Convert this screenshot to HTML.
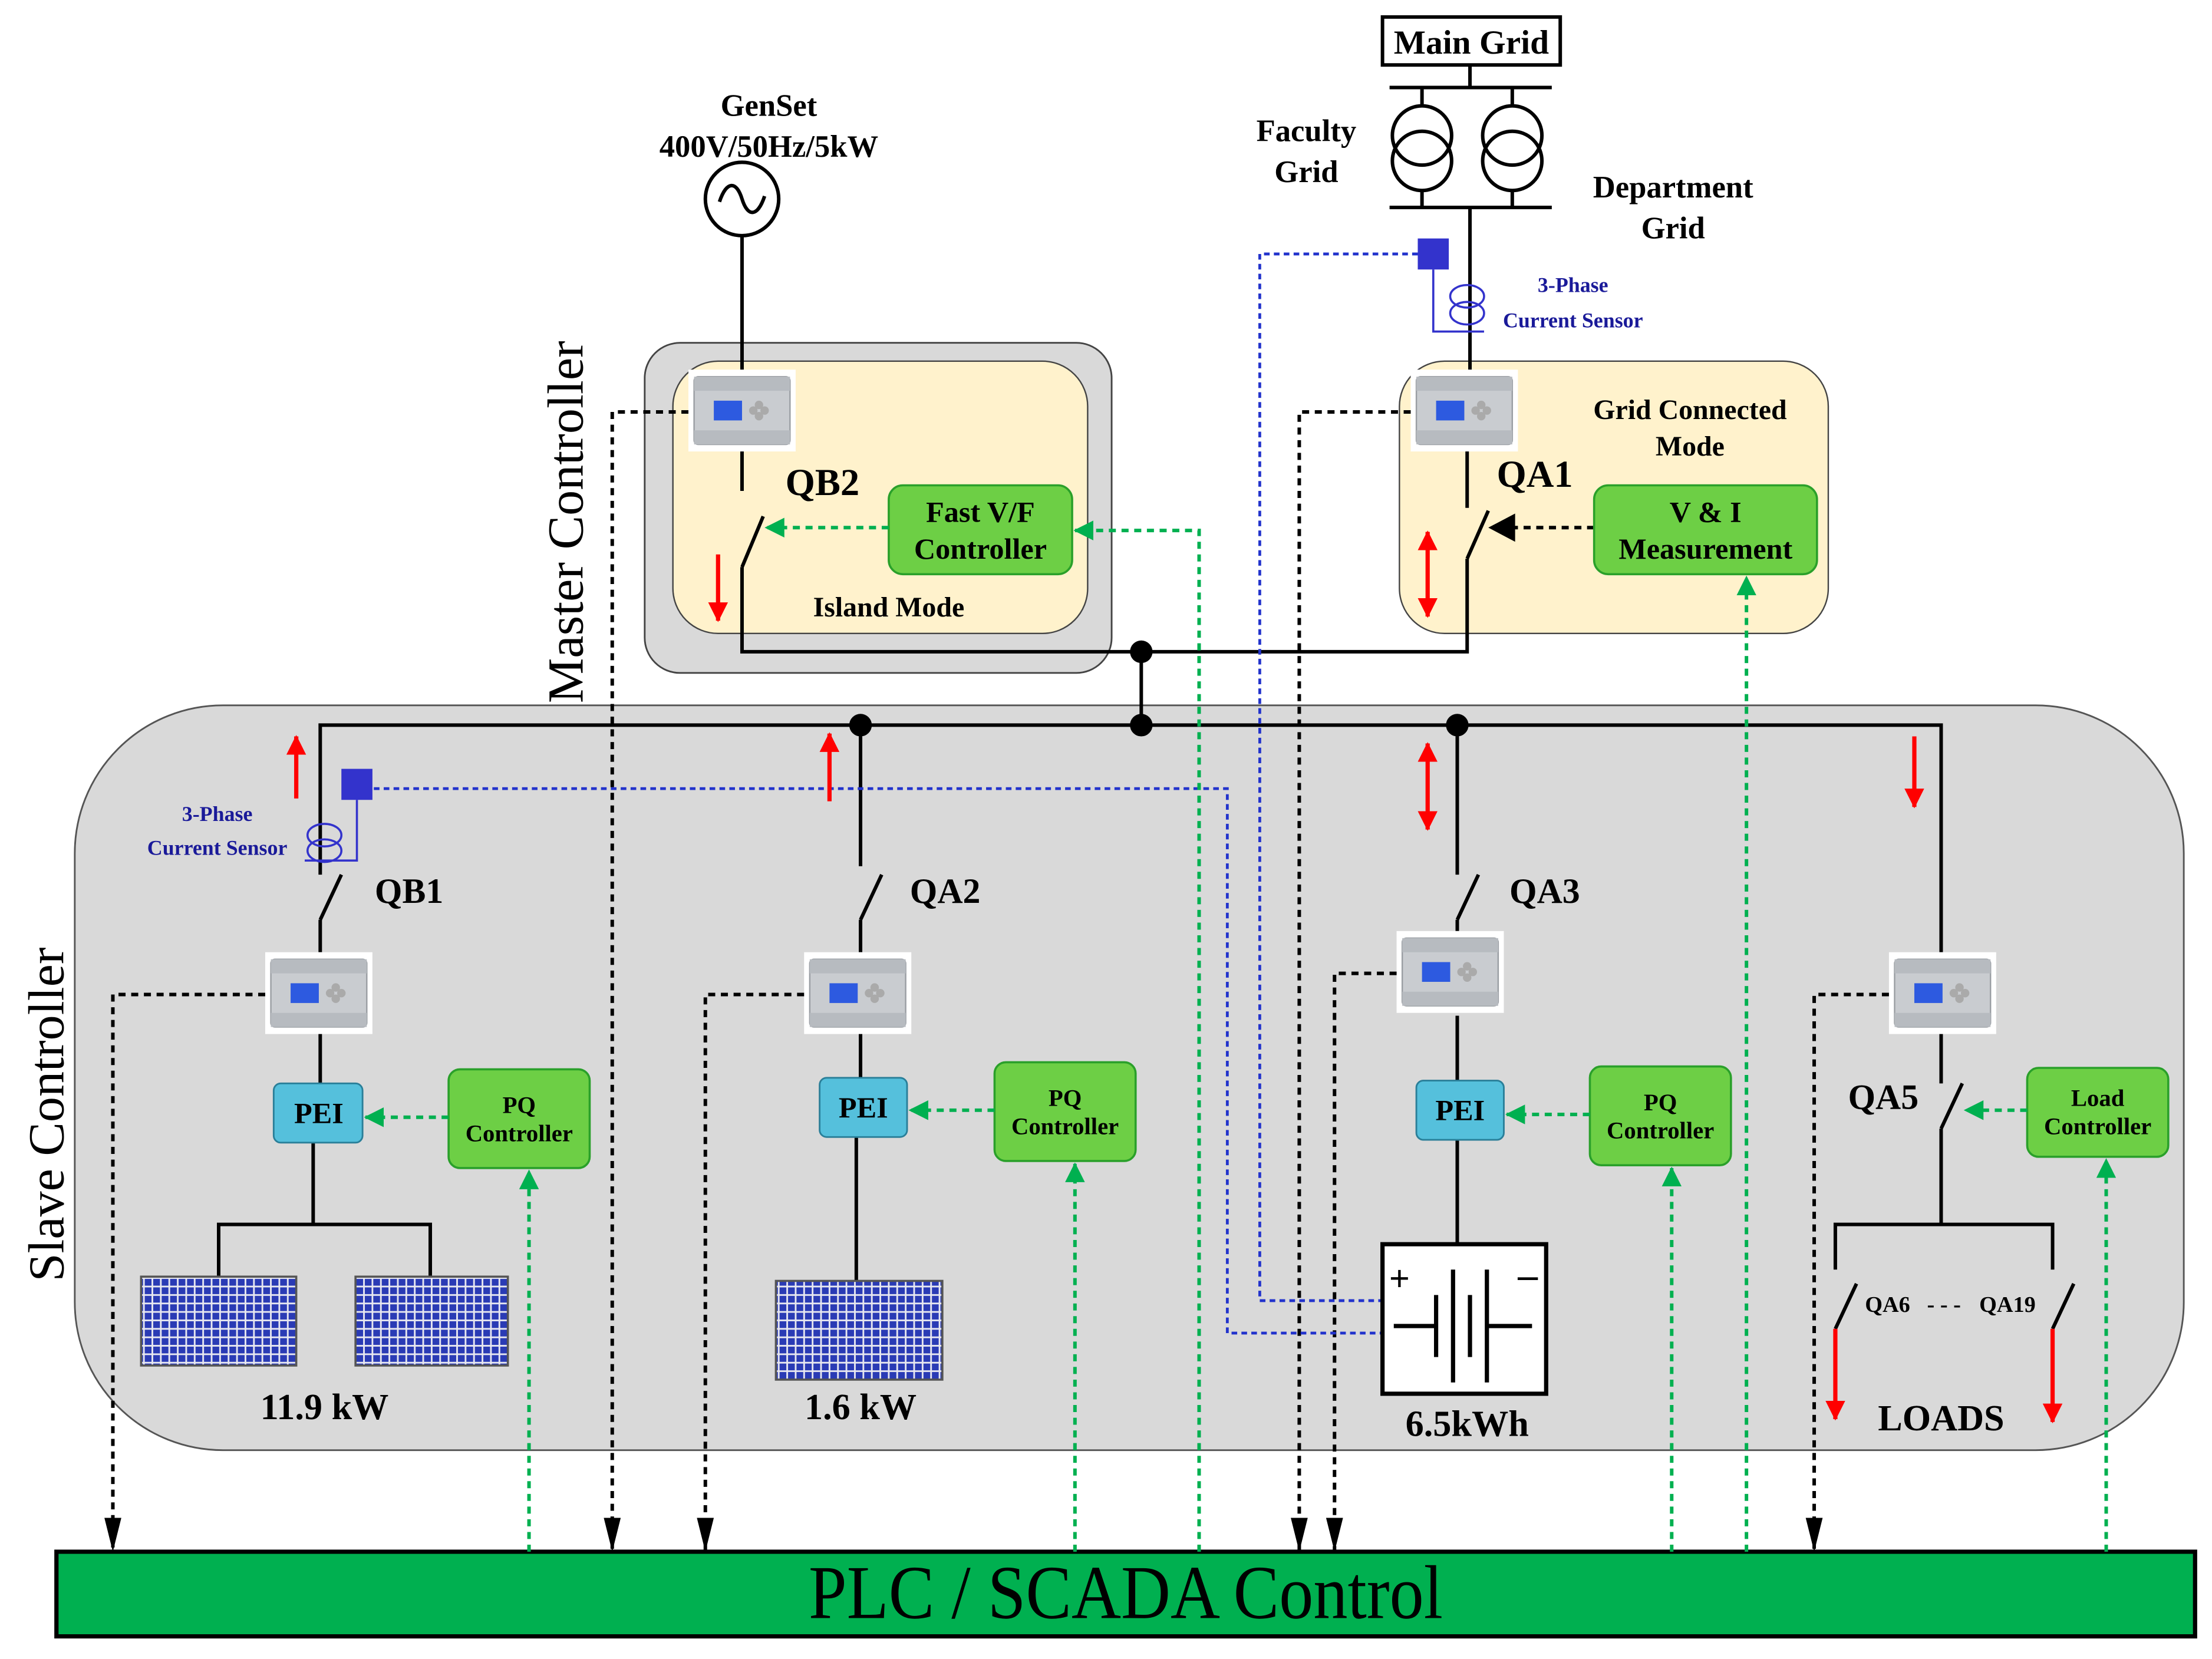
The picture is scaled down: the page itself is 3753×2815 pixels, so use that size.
<!DOCTYPE html>
<html><head><meta charset="utf-8"><style>html,body{margin:0;padding:0;background:#fff}svg{display:block}</style></head>
<body>
<svg xmlns="http://www.w3.org/2000/svg" width="3753" height="2815" viewBox="0 0 1568 1176" font-family="Liberation Serif, serif">
<defs>
<marker id="ak" markerWidth="8" markerHeight="10" refX="7" refY="5" orient="auto" markerUnits="userSpaceOnUse"><path d="M0,1 L8,5 L0,9 z" fill="#000"/></marker>
<marker id="akd" markerWidth="24" markerHeight="12" refX="23" refY="6" orient="auto" markerUnits="userSpaceOnUse"><path d="M0,0 L24,6 L0,12 z" fill="#000"/></marker>
<marker id="ag" markerWidth="14" markerHeight="14" refX="13" refY="7" orient="auto" markerUnits="userSpaceOnUse"><path d="M0,0 L14,7 L0,14 z" fill="#00b050"/></marker>
<marker id="ar" markerWidth="14" markerHeight="14" refX="13" refY="7" orient="auto" markerUnits="userSpaceOnUse"><path d="M0,0 L14,7 L0,14 z" fill="#f00"/></marker>
<marker id="arb" markerWidth="14" markerHeight="14" refX="1" refY="7" orient="auto" markerUnits="userSpaceOnUse"><path d="M14,0 L0,7 L14,14 z" fill="#f00"/></marker>
<pattern id="pv" width="6" height="6" patternUnits="userSpaceOnUse"><rect width="6" height="6" fill="#e8e8f0"/><rect x="0.6" y="0.6" width="4.8" height="4.8" fill="#2a3bb5"/></pattern>
<g id="meter">
<rect x="0" y="0" width="76" height="58" fill="#fff"/>
<rect x="4" y="5" width="68" height="48" rx="3" fill="#c9ccd0" stroke="#9a9ea3"/>
<rect x="4" y="5" width="68" height="10" fill="#b7bbc0"/>
<rect x="4" y="43" width="68" height="10" fill="#b7bbc0"/>
<rect x="18" y="22" width="20" height="14" fill="#2d5ae0"/>
<circle cx="50" cy="25" r="3" fill="#aaa"/><circle cx="50" cy="33" r="3" fill="#aaa"/><circle cx="46" cy="29" r="3" fill="#aaa"/><circle cx="54" cy="29" r="3" fill="#aaa"/>
</g>
</defs>

<rect x="53" y="500" width="1495" height="528" rx="105" fill="#d9d9d9" stroke="#555" stroke-width="1.2"/>
<rect x="457" y="243" width="331" height="234" rx="25" fill="#d9d9d9" stroke="#444" stroke-width="1.2"/>
<rect x="477" y="256" width="294" height="193" rx="32" fill="#fff2cc" stroke="#444" stroke-width="1"/>
<rect x="992" y="256" width="304" height="193" rx="32" fill="#fff2cc" stroke="#444" stroke-width="1"/>

<rect x="40" y="1100" width="1516" height="60" fill="#00b050" stroke="#000" stroke-width="3"/>
<text x="798" y="1147" text-anchor="middle" font-size="54" transform="translate(798 0) scale(0.9 1) translate(-798 0)">PLC / SCADA Control</text>

<rect x="980" y="12" width="126" height="34" fill="#fff" stroke="#000" stroke-width="2.5"/>
<text x="1043" y="38" text-anchor="middle" font-size="24" font-weight="bold">Main Grid</text>
<g stroke="#000" stroke-width="2.5" fill="none">
<line x1="1042" y1="46" x2="1042" y2="62"/>
<line x1="985" y1="62" x2="1100" y2="62"/>
<line x1="985" y1="147" x2="1100" y2="147"/>
<line x1="1008" y1="62" x2="1008" y2="75"/><line x1="1072" y1="62" x2="1072" y2="75"/>
<line x1="1008" y1="134" x2="1008" y2="147"/><line x1="1072" y1="134" x2="1072" y2="147"/>
<circle cx="1008" cy="96" r="21"/><circle cx="1008" cy="114" r="21"/>
<circle cx="1072" cy="96" r="21"/><circle cx="1072" cy="114" r="21"/>
</g>
<text x="926" y="100" text-anchor="middle" font-size="22" font-weight="bold">Faculty</text>
<text x="926" y="129" text-anchor="middle" font-size="22" font-weight="bold">Grid</text>
<text x="1186" y="140" text-anchor="middle" font-size="22" font-weight="bold">Department</text>
<text x="1186" y="169" text-anchor="middle" font-size="22" font-weight="bold">Grid</text>
<text x="545" y="82" text-anchor="middle" font-size="22" font-weight="bold">GenSet</text>
<text x="545" y="111" text-anchor="middle" font-size="22" font-weight="bold">400V/50Hz/5kW</text>
<circle cx="526" cy="141" r="26" fill="#fff" stroke="#000" stroke-width="2.5"/>
<path d="M510,143 C515,128 522,128 526,141 C530,154 537,154 542,139" fill="none" stroke="#000" stroke-width="2.5"/>

<g stroke="#000" stroke-width="2.5" fill="none">
<line x1="526" y1="167" x2="526" y2="262"/>
<line x1="526" y1="320" x2="526" y2="348"/>
<line x1="541" y1="366" x2="526" y2="402"/>
<polyline points="526,402 526,462 1040,462 1040,396"/>
<line x1="1055" y1="362" x2="1040" y2="396"/>
<line x1="1040" y1="320" x2="1040" y2="360"/>
<line x1="1042" y1="147" x2="1042" y2="262"/>
<line x1="809" y1="462" x2="809" y2="514"/>
<polyline points="227,620 227,514 1376,514 1376,675"/>
<line x1="242" y1="620" x2="227" y2="652"/><line x1="227" y1="652" x2="227" y2="675"/>
<line x1="227" y1="733" x2="227" y2="768"/>
<line x1="222" y1="810" x2="222" y2="868"/>
<polyline points="155,905 155,868 305,868 305,905"/>
<line x1="610" y1="514" x2="610" y2="614"/>
<line x1="625" y1="620" x2="610" y2="652"/><line x1="610" y1="652" x2="610" y2="675"/>
<line x1="610" y1="733" x2="610" y2="764"/>
<line x1="607" y1="806" x2="607" y2="908"/>
<line x1="1033" y1="514" x2="1033" y2="620"/>
<line x1="1048" y1="620" x2="1033" y2="652"/><line x1="1033" y1="652" x2="1033" y2="660"/>
<line x1="1033" y1="720" x2="1033" y2="766"/>
<line x1="1033" y1="808" x2="1033" y2="882"/>
<line x1="1376" y1="733" x2="1376" y2="768"/>
<line x1="1391" y1="768" x2="1376" y2="800"/>
<line x1="1376" y1="800" x2="1376" y2="868"/>
<polyline points="1301,900 1301,868 1455,868 1455,900"/>
<line x1="1316" y1="910" x2="1301" y2="942"/>
<line x1="1470" y1="910" x2="1455" y2="942"/>
</g>
<g fill="#000"><circle cx="809" cy="462" r="8"/><circle cx="809" cy="514" r="8"/><circle cx="610" cy="514" r="8"/><circle cx="1033" cy="514" r="8"/></g>

<use href="#meter" x="488" y="262"/>
<use href="#meter" x="1000" y="262"/>
<use href="#meter" x="188" y="675"/>
<use href="#meter" x="570" y="675"/>
<use href="#meter" x="990" y="660"/>
<use href="#meter" x="1339" y="675"/>

<g stroke="#000" stroke-width="2.5" stroke-dasharray="5 4" fill="none" marker-end="url(#akd)">
<polyline points="488,292 434,292 434,1099"/>
<polyline points="1000,292 921,292 921,1099"/>
<polyline points="188,705 80,705 80,1099"/>
<polyline points="570,705 500,705 500,1099"/>
<polyline points="990,690 946,690 946,1099"/>
<polyline points="1339,705 1286,705 1286,1099"/>
</g>
<line x1="1130" y1="374" x2="1070" y2="374" stroke="#000" stroke-width="2.5" stroke-dasharray="5 4"/>
<path d="M1055,374 L1074,364 L1074,384 z" fill="#000"/>

<g stroke="#2233cc" stroke-width="2" stroke-dasharray="4 3" fill="none">
<polyline points="1005,180 893,180 893,922 985,922"/>
<polyline points="265,559 870,559 870,945 985,945"/>
</g>
<rect x="1005" y="169" width="22" height="22" fill="#3333cc"/>
<rect x="242" y="545" width="22" height="22" fill="#3333cc"/>
<g stroke="#3333cc" stroke-width="1.5" fill="none">
<polyline points="1016,191 1016,235 1052,235"/>
<ellipse cx="1040" cy="210" rx="12" ry="8"/><ellipse cx="1040" cy="222" rx="12" ry="8"/>
<polyline points="253,567 253,610 216,610"/>
<ellipse cx="230" cy="592" rx="12" ry="8"/><ellipse cx="230" cy="603" rx="12" ry="8"/>
</g>
<g fill="#1a1a99" font-size="15" font-weight="bold" text-anchor="middle">
<text x="1115" y="207">3-Phase</text><text x="1115" y="232">Current Sensor</text>
<text x="154" y="582">3-Phase</text><text x="154" y="606">Current Sensor</text>
</g>

<g stroke="#2aa02a" stroke-width="1.5" fill="#6dcf45">
<rect x="630" y="344" width="130" height="63" rx="10"/>
<rect x="1130" y="344" width="158" height="63" rx="10"/>
<rect x="318" y="758" width="100" height="70" rx="8"/>
<rect x="705" y="753" width="100" height="70" rx="8"/>
<rect x="1127" y="756" width="100" height="70" rx="8"/>
<rect x="1437" y="757" width="100" height="63" rx="8"/>
</g>
<g font-weight="bold" text-anchor="middle">
<text x="695" y="370" font-size="21">Fast V/F</text><text x="695" y="396" font-size="21">Controller</text>
<text x="1209" y="370" font-size="21">V &amp; I</text><text x="1209" y="396" font-size="21">Measurement</text>
<text x="368" y="789" font-size="17">PQ</text><text x="368" y="809" font-size="17">Controller</text>
<text x="755" y="784" font-size="17">PQ</text><text x="755" y="804" font-size="17">Controller</text>
<text x="1177" y="787" font-size="17">PQ</text><text x="1177" y="807" font-size="17">Controller</text>
<text x="1487" y="784" font-size="17">Load</text><text x="1487" y="804" font-size="17">Controller</text>
</g>
<g fill="#55c0dc" stroke="#2a7f99" stroke-width="1.2">
<rect x="194" y="768" width="63" height="42" rx="5"/>
<rect x="581" y="764" width="62" height="42" rx="5"/>
<rect x="1004" y="766" width="62" height="42" rx="5"/>
</g>
<g font-weight="bold" font-size="21" text-anchor="middle">
<text x="226" y="796">PEI</text><text x="612" y="792">PEI</text><text x="1035" y="794">PEI</text>
</g>

<g stroke="#00b050" stroke-width="2.5" stroke-dasharray="5 4" fill="none" marker-end="url(#ag)">
<line x1="630" y1="374" x2="543" y2="374"/>
<polyline points="850,1100 850,376 762,376"/>
<line x1="1238" y1="1100" x2="1238" y2="409"/>
<line x1="318" y1="792" x2="259" y2="792"/>
<line x1="705" y1="787" x2="645" y2="787"/>
<line x1="1127" y1="790" x2="1068" y2="790"/>
<line x1="1437" y1="787" x2="1393" y2="787"/>
<line x1="375" y1="1100" x2="375" y2="830"/>
<line x1="762" y1="1100" x2="762" y2="825"/>
<line x1="1185" y1="1100" x2="1185" y2="828"/>
<line x1="1493" y1="1100" x2="1493" y2="822"/>
</g>

<g stroke="#f00" stroke-width="3" fill="none">
<line x1="509" y1="393" x2="509" y2="440" marker-end="url(#ar)"/>
<line x1="1012" y1="377" x2="1012" y2="437" marker-start="url(#arb)" marker-end="url(#ar)"/>
<line x1="210" y1="566" x2="210" y2="522" marker-end="url(#ar)"/>
<line x1="588" y1="568" x2="588" y2="520" marker-end="url(#ar)"/>
<line x1="1012" y1="527" x2="1012" y2="588" marker-start="url(#arb)" marker-end="url(#ar)"/>
<line x1="1357" y1="522" x2="1357" y2="572" marker-end="url(#ar)"/>
<line x1="1301" y1="942" x2="1301" y2="1006" marker-end="url(#ar)"/>
<line x1="1455" y1="942" x2="1455" y2="1008" marker-end="url(#ar)"/>
</g>

<rect x="100" y="905" width="110" height="63" fill="url(#pv)" stroke="#555" stroke-width="1.5"/>
<rect x="252" y="905" width="108" height="63" fill="url(#pv)" stroke="#555" stroke-width="1.5"/>
<rect x="550" y="908" width="118" height="70" fill="url(#pv)" stroke="#555" stroke-width="1.5"/>

<rect x="980" y="882" width="116" height="106" fill="#fff" stroke="#000" stroke-width="3"/>
<g stroke="#000" stroke-width="3" fill="none">
<line x1="988" y1="940" x2="1018" y2="940"/>
<line x1="1018" y1="918" x2="1018" y2="962"/>
<line x1="1030" y1="900" x2="1030" y2="980"/>
<line x1="1042" y1="918" x2="1042" y2="962"/>
<line x1="1054" y1="900" x2="1054" y2="980"/>
<line x1="1054" y1="940" x2="1086" y2="940"/>
</g>
<text x="992" y="915" font-size="26" font-weight="bold" text-anchor="middle">+</text>
<text x="1083" y="913" font-size="28" font-weight="bold" text-anchor="middle">–</text>

<g font-weight="bold" text-anchor="middle">
<text x="583" y="351" font-size="27">QB2</text>
<text x="630" y="437" font-size="20">Island Mode</text>
<text x="1198" y="297" font-size="20">Grid Connected</text>
<text x="1198" y="323" font-size="20">Mode</text>
<text x="1088" y="345" font-size="27">QA1</text>
<text x="290" y="640" font-size="25">QB1</text>
<text x="670" y="640" font-size="25">QA2</text>
<text x="1095" y="640" font-size="25">QA3</text>
<text x="1335" y="786" font-size="25">QA5</text>
<text x="1338" y="930" font-size="16">QA6</text>
<text x="1378" y="930" font-size="16">- - -</text>
<text x="1423" y="930" font-size="16">QA19</text>
<text x="230" y="1006" font-size="26">11.9 kW</text>
<text x="610" y="1006" font-size="26">1.6 kW</text>
<text x="1040" y="1018" font-size="26">6.5kWh</text>
<text x="1376" y="1014" font-size="26">LOADS</text>
</g>
<text transform="translate(413 370) rotate(-90)" text-anchor="middle" font-size="36">Master Controller</text>
<text transform="translate(45 790) rotate(-90)" text-anchor="middle" font-size="36">Slave Controller</text>
</svg>
</body></html>
